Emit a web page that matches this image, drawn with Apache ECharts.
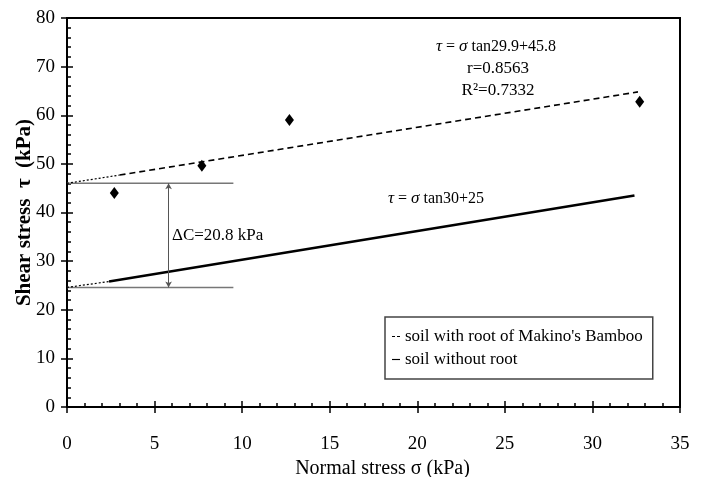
<!DOCTYPE html>
<html>
<head>
<meta charset="utf-8">
<script src="https://cdn.jsdelivr.net/npm/echarts@6/dist/echarts.min.js"></script>
<style>
  html, body { margin: 0; padding: 0; background: #fff; }
  #chart { width: 703px; height: 477px; }
</style>
</head>
<body>
<div id="chart"></div>
<script>
// measured points (normal stress, shear stress)
const shearPoints = [[2.7, 44.0], [7.7, 49.6], [12.7, 59.0], [32.7, 62.8]]
// fitted lines, dotted part is the extrapolation to sigma = 0
const rootDotted = [[0, 46.0], [3.0, 47.7]]
const rootFit = [[3.0, 47.7], [32.6, 64.8]]
const noRootDotted = [[0, 24.6], [2.4, 25.8]]
const noRootFit = [[2.4, 25.8], [32.4, 43.5]]
// delta C guides
const guideUpper = [[0, 46.0], [9.5, 46.0]]
const guideLower = [[0, 24.6], [9.5, 24.6]]
const deltaArrow = [[5.8, 46.0], [5.8, 24.6]]

const serif = '"Liberation Serif", "DejaVu Serif", serif'
const ink = '#000'

const chart = echarts.init(document.getElementById('chart'))

const tickStyle = { color: ink, width: 1.5 }

chart.setOption({
  animation: false,
  backgroundColor: '#fff',
  textStyle: { fontFamily: serif, color: ink },
  grid: {
    left: 67, right: 23, top: 18, bottom: 70,
    outerBoundsMode: 'none',
    show: true, borderColor: ink, borderWidth: 2, backgroundColor: 'transparent'
  },
  legend: {
    left: 385, top: 317,
    orient: 'vertical',
    itemWidth: 8, itemHeight: 2, itemGap: 6,
    padding: [11, 10, 11, 7],
    borderColor: '#444', borderWidth: 1.5,
    textStyle: { fontFamily: serif, fontSize: 17, color: ink },
    data: [
      { name: "soil with root of Makino's Bamboo", icon: 'path://M0,0h3v1h-3z M5,0h3v1h-3z' },
      { name: 'soil without root', icon: 'path://M0,0h7v1h-7z' }
    ]
  },
  xAxis: [{
    type: 'value', min: 0, max: 35, interval: 5,
    name: 'Normal stress σ (kPa)', nameLocation: 'middle', nameGap: 51,
    nameTextStyle: { fontFamily: serif, fontSize: 20, color: ink, padding: [0, 0, 0, 18] },
    axisLine: { lineStyle: { color: ink, width: 2 } },
    axisTick: { inside: true, length: 6, lineStyle: tickStyle },
    minorTick: { show: true, splitNumber: 5, length: 4, lineStyle: tickStyle },
    axisLabel: { fontFamily: serif, fontSize: 19, color: ink, margin: 28 },
    splitLine: { show: false }
  }, {
    type: 'value', min: 0, max: 35, interval: 5, position: 'bottom',
    axisLine: { show: false },
    axisTick: { inside: false, length: 6, lineStyle: tickStyle },
    axisLabel: { show: false },
    splitLine: { show: false }
  }],
  yAxis: [{
    type: 'value', min: 0, max: 80, interval: 10,
    name: 'Shear stress  τ  (kPa)', nameLocation: 'middle', nameGap: 32,
    nameMoveOverlap: false,
    nameTextStyle: { fontFamily: serif, fontSize: 21, fontWeight: 'bold', color: ink },
    axisLine: { lineStyle: { color: ink, width: 2 } },
    axisTick: { inside: true, length: 6, lineStyle: tickStyle },
    minorTick: { show: true, splitNumber: 5, length: 4, lineStyle: tickStyle },
    axisLabel: { fontFamily: serif, fontSize: 19, color: ink, margin: 12 },
    splitLine: { show: false }
  }, {
    type: 'value', min: 0, max: 80, interval: 10, position: 'left',
    axisLine: { show: false },
    axisTick: { inside: false, length: 6, lineStyle: tickStyle },
    axisLabel: { show: false },
    splitLine: { show: false }
  }],
  series: [
    {
      name: 'guideUpper', type: 'line', data: guideUpper, symbol: 'none', silent: true,
      lineStyle: { color: '#777', width: 1.5 }
    },
    {
      name: 'guideLower', type: 'line', data: guideLower, symbol: 'none', silent: true,
      lineStyle: { color: '#777', width: 1.5 }
    },
    {
      name: 'deltaC', type: 'line', data: [], symbol: 'none', silent: true,
      markLine: {
        silent: true,
        symbol: ['arrow', 'arrow'], symbolSize: [5, 6],
        label: { show: false },
        lineStyle: { color: '#555', width: 1, type: 'solid' },
        data: [[{ coord: deltaArrow[0] }, { coord: deltaArrow[1] }]]
      }
    },
    {
      name: 'rootDotted', type: 'line', data: rootDotted, symbol: 'none',
      lineStyle: { color: ink, width: 1.2, type: [2, 2] }
    },
    {
      name: "soil with root of Makino's Bamboo", type: 'line', data: rootFit, symbol: 'none',
      itemStyle: { color: ink },
      lineStyle: { color: ink, width: 1.6, type: [6, 4] }
    },
    {
      name: 'noRootDotted', type: 'line', data: noRootDotted, symbol: 'none',
      lineStyle: { color: ink, width: 1.2, type: [2, 2] }
    },
    {
      name: 'soil without root', type: 'line', data: noRootFit, symbol: 'none',
      itemStyle: { color: ink },
      lineStyle: { color: ink, width: 2.6 }
    },
    {
      name: 'measured', type: 'scatter', data: shearPoints,
      symbol: 'diamond', symbolSize: [9, 12],
      itemStyle: { color: ink, opacity: 1 }
    }
  ],
  graphic: [
    {
      type: 'text', left: 436, top: 38,
      style: {
        text: '{i|τ} = {i|σ} tan29.9+45.8',
        font: '16px ' + serif, fill: ink,
        rich: { i: { fontStyle: 'italic', fontFamily: serif, fontSize: 17 } }
      }
    },
    {
      type: 'text', x: 498, y: 69,
      style: { text: 'r=0.8563', font: '17px ' + serif, fill: ink, align: 'center', verticalAlign: 'middle' }
    },
    {
      type: 'text', x: 498, y: 91,
      style: { text: 'R²=0.7332', font: '17px ' + serif, fill: ink, align: 'center', verticalAlign: 'middle' }
    },
    {
      type: 'text', left: 388, top: 190,
      style: {
        text: '{i|τ} = {i|σ} tan30+25',
        font: '16px ' + serif, fill: ink,
        rich: { i: { fontStyle: 'italic', fontFamily: serif, fontSize: 17 } }
      }
    },
    {
      type: 'text', x: 172, y: 236,
      style: { text: 'ΔC=20.8 kPa', font: '17px ' + serif, fill: ink, verticalAlign: 'middle' }
    }
  ]
})
</script>
</body>
</html>
